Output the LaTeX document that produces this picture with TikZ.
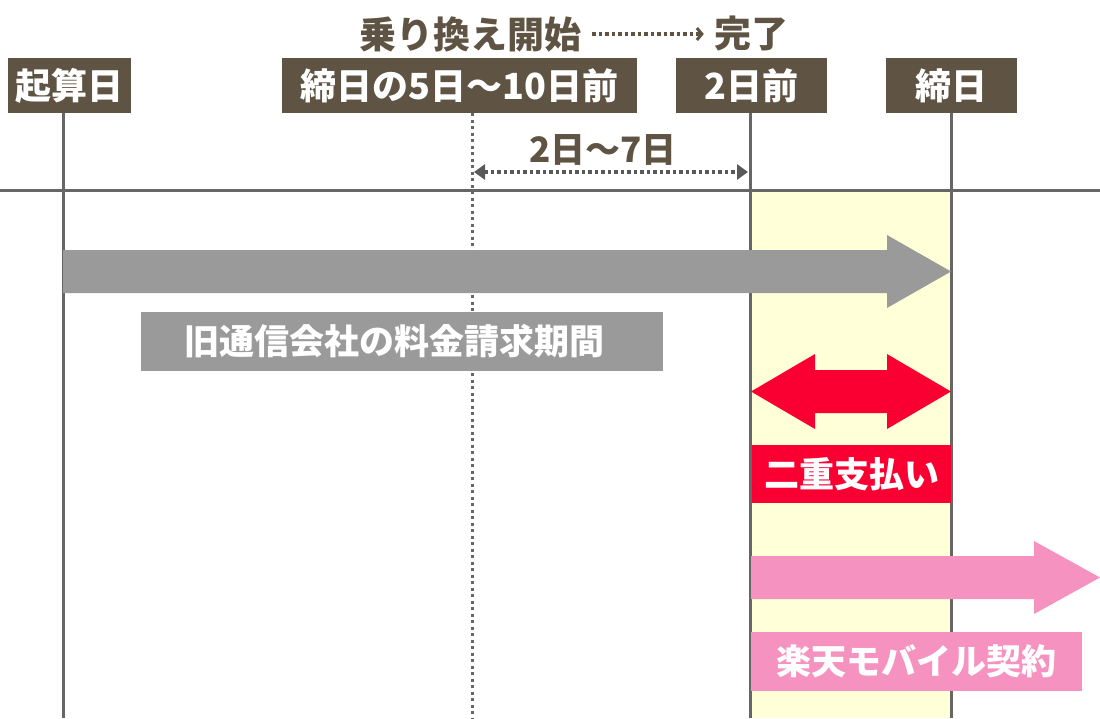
\documentclass[tikz,border=0pt]{standalone}
\usepackage{fontspec}
\setmainfont{Noto Sans CJK JP}
\usetikzlibrary{positioning,arrows.meta}

\definecolor{datebrown}{HTML}{5F5443}
\definecolor{linegray}{HTML}{666666}
\definecolor{spangray}{HTML}{595959}
\definecolor{oldgray}{HTML}{9A9A9A}
\definecolor{doublered}{HTML}{FA0032}
\definecolor{newpink}{HTML}{F692BF}
\definecolor{bandyellow}{HTML}{FFFFD8}

\begin{document}
\begin{tikzpicture}[x=1pt,y=-1pt]

    % Styles
    \tikzstyle{datebox} = [rectangle, minimum height=55, inner sep=0, text centered, fill=datebrown, text=white, font=\fontsize{36}{40}\selectfont\bfseries]
    \tikzstyle{heading} = [inner sep=0, text=datebrown, font=\fontsize{37}{40}\selectfont\bfseries]
    \tikzstyle{barlabel} = [rectangle, minimum height=59, inner sep=0, text centered, text=white, font=\fontsize{35}{40}\selectfont\bfseries]
    \tikzstyle{timeline} = [line width=3, draw=linegray]
    \tikzstyle{guide} = [line width=3, draw=linegray, dash pattern=on 3pt off 3.5pt]
    \tikzstyle{gaparrow} = [line width=3.5, draw=spangray, dash pattern=on 3.5pt off 3pt, {Triangle[length=11,width=15]}-{Triangle[length=11,width=15]}]
    \tikzstyle{steparrow} = [line width=3.5, draw=datebrown, dash pattern=on 3.5pt off 3pt, -{Straight Barb[length=5,width=12,line width=3]}]

    \useasboundingbox (0,0) rectangle (1100,718);

    % Band
    \fill [bandyellow] (750,190) rectangle (951,718);

    % Coordinates
    \coordinate (t0) at (63,718);
    \coordinate (t1) at (472,718);
    \coordinate (t2) at (750,718);
    \coordinate (t3) at (951,718);
    \coordinate (axis-l) at (0,190);
    \coordinate (axis-r) at (1100,190);

    % Nodes
    \node (start) [datebox, minimum width=123] at (69.5,85.5) {起算日};
    \node (switch) [datebox, minimum width=355] at (459.5,85.5) {締日の5日〜10日前};
    \node (before) [datebox, minimum width=151] at (751.5,85.5) {2日前};
    \node (close) [datebox, minimum width=131] at (951.5,85.5) {締日};
    \node (begin) [heading] at (470,34) {乗り換え開始};
    \node (done) [heading] at (751,34) {完了};
    \node (gap) [heading, font=\fontsize{35}{40}\selectfont\bfseries] at (603,150) {2日〜7日};
    \coordinate (gap-l) at (474,172);
    \coordinate (gap-r) at (748,172);

    % Lines
    \draw [timeline] (axis-l) -- (axis-r);
    \draw [timeline] (t0 |- start.south) -- (t0);
    \draw [guide] (t1 |- switch.south) -- (t1);
    \draw [timeline] (t2 |- before.south) -- (t2);
    \draw [timeline] (t3 |- close.south) -- (t3);
    \draw [steparrow] ([xshift=11]begin.east) -- ([xshift=-10]done.west);
    \draw [gaparrow] (gap-l) -- (gap-r);

    % Bars
    \fill [oldgray] (63,250) -- (887,250) -- (887,235) -- (951,271.5) -- (887,308) -- (887,293) -- (63,293) -- cycle;
    \fill [doublered] (751,391.5) -- (815,354) -- (815,370) -- (887,370) -- (887,354) -- (951,391.5) -- (887,429) -- (887,413) -- (815,413) -- (815,429) -- cycle;
    \fill [newpink] (751,556) -- (1034,556) -- (1034,541) -- (1100,577.5) -- (1034,614) -- (1034,599) -- (751,599) -- cycle;

    \node (old) [barlabel, fill=oldgray, minimum width=522] at (402,341.5) {\hspace*{-16pt}旧通信会社の料金請求期間};
    \node (double) [barlabel, fill=doublered, minimum width=199, minimum height=58] at (851.5,474) {二重支払い};
    \node (new) [barlabel, fill=newpink, minimum width=331] at (916.5,661.5) {楽天モバイル契約};

\end{tikzpicture}
\end{document}
